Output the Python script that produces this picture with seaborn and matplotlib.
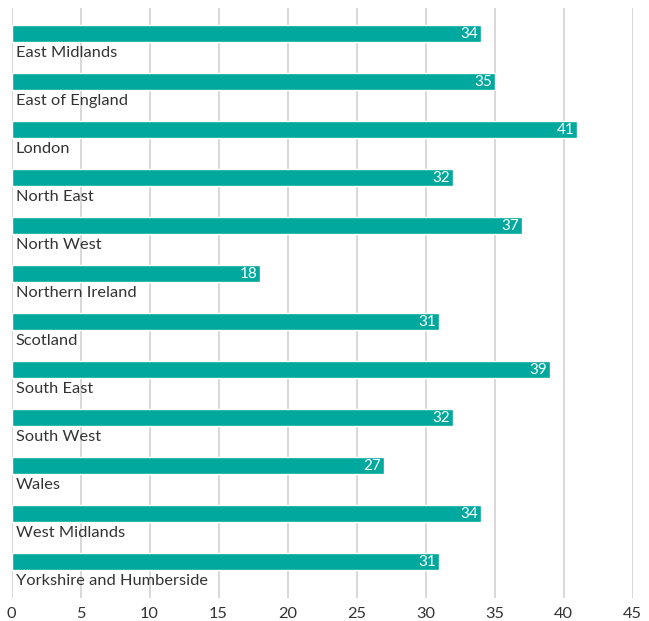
import matplotlib
matplotlib.use("Agg")
import matplotlib.pyplot as plt
import seaborn as sns
import pandas as pd

regions = [
    "East Midlands", "East of England", "London", "North East", "North West",
    "Northern Ireland", "Scotland", "South East", "South West", "Wales",
    "West Midlands", "Yorkshire and Humberside",
]
values = [34, 35, 41, 32, 37, 18, 31, 39, 32, 27, 34, 31]
x_ticks = [0, 5, 10, 15, 20, 25, 30, 35, 40, 45]

BAR_COLOR = "#00a89e"
TEXT_COLOR = "#333333"
GRID_COLOR = "#d2d2d2"

sns.set_theme(style="white")
plt.rcParams["font.family"] = ["Lato", "DejaVu Sans"]

df = pd.DataFrame({"region": regions, "value": values})

fig = plt.figure(figsize=(6.49, 6.21), dpi=100)
ax = fig.add_axes([11.5 / 649, 1 - 598 / 621, 621 / 649, 590 / 621])

sns.barplot(data=df, x="value", y="region", orient="h", color=BAR_COLOR,
            width=0.354, saturation=1, ax=ax, zorder=3)

ax.set_xlim(0, 45)
ax.set_ylim(11 + 36.5 / 48, -25.5 / 48)
ax.set_xticks(x_ticks)
ax.set_xticklabels([str(t) for t in x_ticks], fontsize=11.8, color=TEXT_COLOR)
ax.set_yticks([])
ax.set_xlabel("")
ax.set_ylabel("")
ax.tick_params(axis="x", length=0, pad=6.5)
for s in ax.spines.values():
    s.set_visible(False)
ax.grid(axis="x", color=GRID_COLOR, linewidth=1.2, zorder=0)
ax.grid(axis="y", visible=False)

for i, (name, v) in enumerate(zip(regions, values)):
    ax.text(0.3, i + 0.41, name, ha="left", va="center", fontsize=11.8,
            color=TEXT_COLOR, zorder=4)
    ax.text(v - 0.2, i + 0.01, str(v), ha="right", va="center", fontsize=11,
            color="white", zorder=4)

fig.savefig("out.png", dpi=100)
